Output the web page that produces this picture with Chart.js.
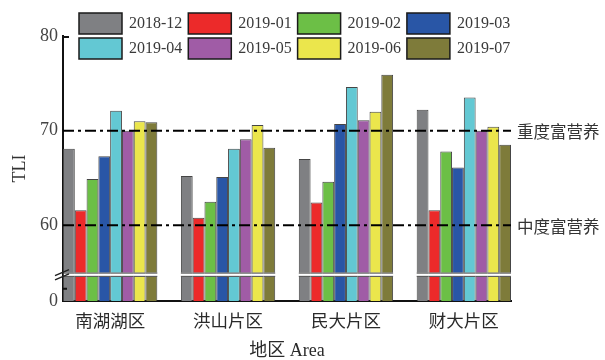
<!DOCTYPE html>
<html>
<head>
<meta charset="utf-8">
<script src="https://cdn.jsdelivr.net/npm/chart.js@4/dist/chart.umd.min.js"></script>
<style>
  html, body { margin: 0; padding: 0; background: #fff; }
  #wrap { width: 605px; height: 360px; }
</style>
</head>
<body>
<div id="wrap"><canvas id="tliChart" width="605" height="360"></canvas></div>
<script>
// areas and months
const areas = ['南湖湖区', '洪山片区', '民大片区', '财大片区'];
const months = ['2018-12', '2019-01', '2019-02', '2019-03', '2019-04', '2019-05', '2019-06', '2019-07'];

// TLI per month, one value per area
const tli201812 = [68.1, 65.2, 67.0, 72.2];
const tli201901 = [61.6, 60.8, 62.4, 61.6];
const tli201902 = [64.9, 62.5, 64.6, 67.8];
const tli201903 = [67.3, 65.1, 70.7, 66.1];
const tli201904 = [72.1, 68.1, 74.6, 73.5];
const tli201905 = [70.0, 69.1, 71.1, 70.0];
const tli201906 = [71.0, 70.6, 72.0, 70.4];
const tli201907 = [70.9, 68.2, 75.9, 68.5];
const series = [tli201812, tli201901, tli201902, tli201903, tli201904, tli201905, tli201906, tli201907];

// y ticks; the axis is broken, real 0 sits at axisFloor
const axisFloor = 52;
const yTicks = [52, 60, 70, 80];
const yTickLabels = ['0', '60', '70', '80'];

// reference levels
const levels = [70, 60];
const levelLabels = ['重度富营养', '中度富营养'];

const colors = ['#7f8083', '#ec2a2a', '#6cbf46', '#2956a6', '#63c8d3', '#a05ca6', '#ebe64c', '#7e7b3a'];

const serif = 'Liberation Serif, Noto Sans CJK SC';
const cjk = 'Noto Sans CJK SC';

const datasets = months.map((m, i) => ({
  label: m,
  data: series[i].map((v, j) => ({ x: j + 1, y: v })),
  backgroundColor: colors[i],
  borderColor: '#454545',
  borderWidth: 1,
  categoryPercentage: 0.8,
  barPercentage: 1.0
}));

// draws break, level lines, labels and the legend
const extras = {
  id: 'extras',
  afterDatasetsDraw(chart) {
    const { ctx, chartArea: a, scales: { y } } = chart;
    const gTop = y.getPixelForValue(55.0);
    const gBot = y.getPixelForValue(54.55);
    ctx.save();
    ctx.fillStyle = '#fff';
    ctx.fillRect(a.left + 1, gTop, a.right - a.left, gBot - gTop);
    ctx.strokeStyle = '#454545';
    ctx.lineWidth = 1;
    chart.data.datasets.forEach((ds, i) => {
      chart.getDatasetMeta(i).data.forEach(bar => {
        const l = bar.x - bar.width / 2, r = bar.x + bar.width / 2;
        ctx.beginPath();
        ctx.moveTo(l, gTop + 0.5); ctx.lineTo(r, gTop + 0.5);
        ctx.moveTo(l, gBot - 0.5); ctx.lineTo(r, gBot - 0.5);
        ctx.stroke();
      });
    });
    // axis break marks
    ctx.strokeStyle = '#222';
    ctx.lineWidth = 1.5;
    ctx.beginPath();
    ctx.moveTo(a.left - 8, gTop + 3); ctx.lineTo(a.left + 6, gTop - 3);
    ctx.moveTo(a.left - 8, gBot + 3); ctx.lineTo(a.left + 6, gBot - 3);
    ctx.stroke();
    // inward ticks
    ctx.lineWidth = 2;
    ctx.strokeStyle = '#111';
    ctx.beginPath();
    const t80 = y.getPixelForValue(80);
    ctx.moveTo(a.left, t80 + 1); ctx.lineTo(a.left + 6, t80 + 1);
    const tLow = y.getPixelForValue(53.3);
    ctx.moveTo(a.left, tLow); ctx.lineTo(a.left + 4, tLow);
    ctx.stroke();
    // level lines
    ctx.lineWidth = 2;
    ctx.strokeStyle = '#000';
    ctx.setLineDash([11, 4, 3, 4]);
    levels.forEach(lv => {
      const py = y.getPixelForValue(lv);
      ctx.beginPath();
      ctx.moveTo(a.left, py); ctx.lineTo(a.right, py);
      ctx.stroke();
    });
    ctx.setLineDash([]);
    ctx.fillStyle = '#333';
    ctx.font = '16.5px ' + cjk;
    ctx.textBaseline = 'middle';
    ctx.textAlign = 'left';
    levels.forEach((lv, i) => {
      ctx.fillText(levelLabels[i], a.right + 6, y.getPixelForValue(lv) + 1);
    });
    ctx.restore();
  },
  afterDraw(chart) {
    const { ctx } = chart;
    ctx.save();
    ctx.font = '16px ' + serif;
    ctx.textBaseline = 'middle';
    ctx.textAlign = 'left';
    chart.data.datasets.forEach((ds, i) => {
      const col = i % 4, row = Math.floor(i / 4);
      const bx = 79 + col * 109.3, by = 13 + row * 25;
      ctx.fillStyle = ds.backgroundColor;
      ctx.fillRect(bx, by, 43, 21);
      ctx.strokeStyle = '#1a1a1a';
      ctx.lineWidth = 1.5;
      ctx.strokeRect(bx, by, 43, 21);
      ctx.fillStyle = '#3a3a3a';
      ctx.fillText(ds.label, bx + 50, by + 11);
    });
    ctx.restore();
  }
};

const ctx = document.getElementById('tliChart').getContext('2d');

const tliChart = new Chart(ctx, {
  type: 'bar',
  data: { datasets: datasets },
  options: {
    responsive: false,
    animation: false,
    layout: { padding: { top: 36, right: 94, left: 0, bottom: 0 } },
    plugins: {
      legend: { display: false },
      tooltip: { enabled: false }
    },
    scales: {
      x: {
        type: 'linear',
        bounds: 'data',
        offset: false,
        min: 0.6,
        max: 4.4,
        afterBuildTicks: s => {
          s.ticks = areas.map((a, i) => ({ value: i + 1 }));
          s.min = 0.6;
          s.max = 4.4;
        },
        afterFit: s => { s.height = 59; },
        grid: { display: false, offset: false, drawTicks: false },
        border: { display: true, color: '#111', width: 2 },
        ticks: {
          autoSkip: false,
          maxRotation: 0,
          padding: 9,
          color: '#2a2a2a',
          font: { family: cjk, size: 17.5 },
          callback: v => areas[v - 1]
        },
        title: {
          display: true,
          text: '地区 Area',
          color: '#2a2a2a',
          font: { family: serif, size: 18, lineHeight: 1 },
          padding: 0
        }
      },
      y: {
        min: axisFloor,
        max: 80,
        afterBuildTicks: s => { s.ticks = yTicks.map(v => ({ value: v })); },
        afterFit: s => { s.width = 63; },
        grid: { display: false, drawTicks: false },
        border: { display: true, color: '#111', width: 2 },
        ticks: {
          padding: 5,
          color: '#444',
          font: { family: serif, size: 18 },
          callback: v => yTickLabels[yTicks.indexOf(v)]
        },
        title: {
          display: true,
          text: 'TLI',
          color: '#333',
          font: { family: serif, size: 18 },
          padding: { top: 9 }
        }
      }
    }
  },
  plugins: [extras]
});
</script>
</body>
</html>
